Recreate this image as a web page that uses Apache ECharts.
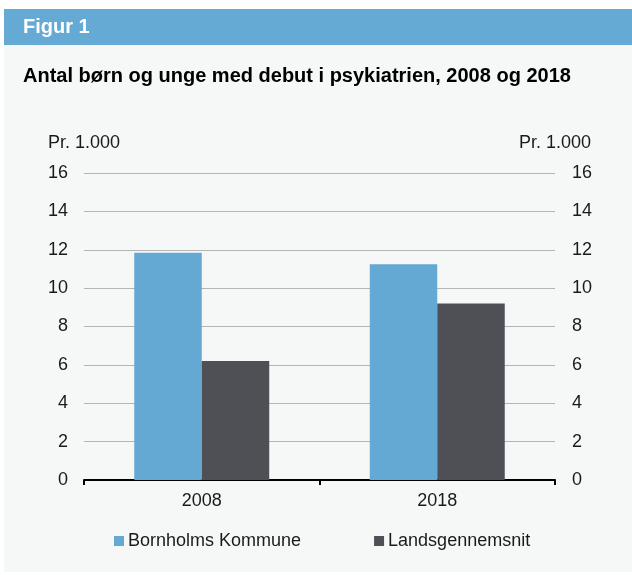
<!DOCTYPE html>
<html>
<head>
<meta charset="utf-8">
<script src="https://cdn.jsdelivr.net/npm/echarts@6/dist/echarts.min.js"></script>
<style>
  html, body { margin: 0; padding: 0; background: #fff; }
  #chart { width: 632px; height: 575px; }
</style>
</head>
<body>
<div id="chart"></div>
<script>
  // data
  var categories = ['2008', '2018'];
  var bornholm = [11.85, 11.25];
  var lands = [6.2, 9.2];
  var seriesNames = ['Bornholms Kommune', 'Landsgennemsnit'];
  var axisName = 'Pr. 1.000';

  var font = 'Liberation Sans, Arial, Helvetica, sans-serif';
  var txt = '#1a1a1a';

  var chart = echarts.init(document.getElementById('chart'));
  var option = {
    backgroundColor: '#fff',
    animation: false,
    textStyle: { fontFamily: font },
    graphic: [
      { type: 'rect', left: 4, top: 45, shape: { width: 628, height: 527 }, style: { fill: '#f6f8f8' }, z: -10 },
      { type: 'rect', left: 4, top: 9, shape: { width: 628, height: 36 }, style: { fill: '#64aad5' }, z: -10 },
      { type: 'text', left: 23, top: 17, style: { text: 'Figur 1', fill: '#fff', font: 'bold 20px ' + font } },
      { type: 'text', left: 23, top: 66, style: { text: 'Antal børn og unge med debut i psykiatrien, 2008 og 2018', fill: '#000', font: 'bold 20px ' + font } }
    ],
    legend: {
      left: 114,
      top: 532,
      padding: 0,
      itemWidth: 10,
      itemHeight: 10,
      itemGap: 73,
      icon: 'rect',
      textStyle: { fontSize: 18, color: txt, fontFamily: font, padding: [0, 0, 0, -1] },
      data: seriesNames
    },
    grid: { left: 84, right: 77, top: 173, bottom: 95 },
    xAxis: {
      type: 'category',
      data: categories,
      axisLine: { lineStyle: { color: '#000', width: 2 } },
      axisTick: { show: true, length: 5, lineStyle: { color: '#000', width: 2 } },
      axisLabel: { fontSize: 18, color: txt, margin: 12 }
    },
    yAxis: [
      {
        type: 'value', min: 0, max: 16, interval: 2, position: 'left',
        name: axisName, nameLocation: 'end', nameGap: 21,
        nameTextStyle: { fontSize: 18, color: txt },
        axisLine: { show: false }, axisTick: { show: false },
        axisLabel: { fontSize: 18, color: txt, margin: 16 },
        splitLine: { lineStyle: { color: '#b5b5b5', width: 1 } }
      },
      {
        type: 'value', min: 0, max: 16, interval: 2, position: 'right',
        name: axisName, nameLocation: 'end', nameGap: 21,
        nameTextStyle: { fontSize: 18, color: txt },
        axisLine: { show: false }, axisTick: { show: false },
        axisLabel: { fontSize: 18, color: txt, margin: 17 },
        splitLine: { show: false }
      }
    ],
    series: [
      {
        name: seriesNames[0], type: 'bar', data: bornholm,
        barWidth: 67.5, barGap: '0%',
        itemStyle: { color: '#63a9d4' }
      },
      {
        name: seriesNames[1], type: 'bar', data: lands,
        barWidth: 67.5, barGap: '0%',
        itemStyle: { color: '#4f5056' }
      }
    ]
  };
  chart.setOption(option);
</script>
</body>
</html>
